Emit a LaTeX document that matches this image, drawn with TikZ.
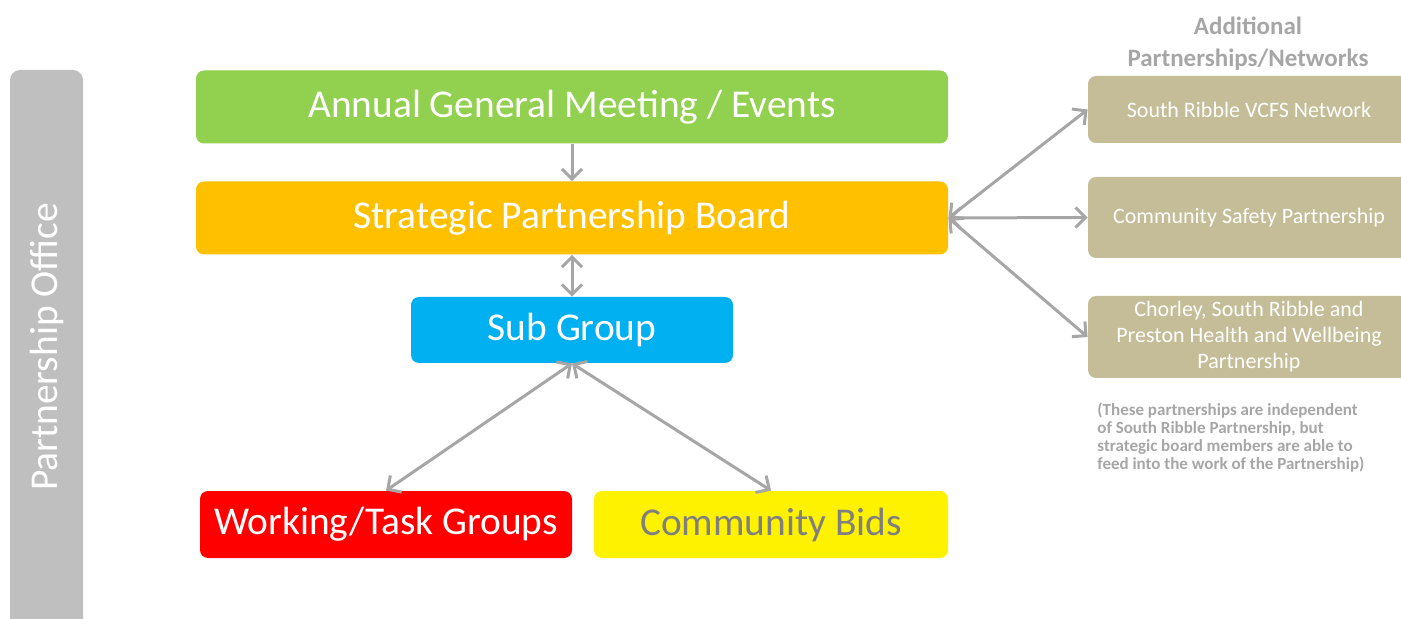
\documentclass[tikz,border=0pt]{standalone}
\usepackage{fontspec}
\setmainfont{Carlito}
\usetikzlibrary{arrows.meta}
\definecolor{officegray}{HTML}{BFBFBF}
\definecolor{linegray}{HTML}{A6A6A6}
\definecolor{agmgreen}{HTML}{92D050}
\definecolor{boardorange}{HTML}{FFC000}
\definecolor{subblue}{HTML}{00B0F0}
\definecolor{partnertan}{HTML}{C4BD97}
\definecolor{textgray}{HTML}{7F7F7F}
\tikzstyle{mainbox} = [rectangle, rounded corners=4pt, inner sep=0pt, text centered, text=white, font=\fontsize{19.7}{23}\selectfont]
\tikzstyle{partnerbox} = [rectangle, rounded corners=4pt, inner sep=0pt, minimum width=161pt, text=white, align=center, fill=partnertan, font=\fontsize{11}{13}\selectfont]
\tikzstyle{arrow} = [line width=1.5pt, draw=linegray, ->, >={Straight Barb[length=5pt,width=10pt]}]
\tikzstyle{twoway} = [arrow, <->]

\begin{document}
\begin{tikzpicture}[x=0.5pt, y=-0.5pt]
\useasboundingbox (0,0) rectangle (1401,619);

\fill[officegray] (10,619) [rounded corners=5pt] -- (10,70) -- (83,70) [sharp corners] -- (83,619) -- cycle;
\node (office) [rotate=90, text=white, font=\fontsize{19.7}{23}\selectfont] at (47,347) {Partnership Office};

\node (agm) [mainbox, fill=agmgreen, minimum width=376pt, minimum height=36.5pt] at (572,107) {Annual General Meeting / Events};
\node (board) [mainbox, fill=boardorange, minimum width=376pt, minimum height=36.5pt] at (572,218) {Strategic Partnership Board};
\node (sub) [mainbox, fill=subblue, minimum width=161pt, minimum height=33pt] at (572,330) {Sub Group};
\node (work) [mainbox, fill=red, minimum width=186pt, minimum height=33.5pt] at (386,524.5) {Working/Task Groups};
\node (bids) [mainbox, fill=yellow, text=textgray, minimum width=177pt, minimum height=33.5pt] at (771,524.5) {Community Bids};

\node (header) [text=linegray, align=center, font=\bfseries\fontsize{12.5}{16}\selectfont] at (1248,44) {Additional\\Partnerships/Networks};
\node (vcfs) [partnerbox, minimum height=33.5pt] at (1249,109.5) {South Ribble VCFS Network};
\node (csp) [partnerbox, minimum height=40.5pt] at (1249,217.5) {Community Safety Partnership};
\node (health) [partnerbox, minimum height=41pt] at (1249,337) {Chorley, South Ribble and\\Preston Health and Wellbeing\\Partnership};
\node (note) [anchor=north west, text=linegray, align=left, inner sep=0pt, font=\bfseries\fontsize{8.5}{9}\selectfont] at (1097,402) {(These partnerships are independent\\of South Ribble Partnership, but\\strategic board members are able to\\feed into the work of the Partnership)};

\draw [arrow] (agm) -- (board);
\draw [twoway] (board) -- (sub);
\draw [twoway] (sub.south) -- (work.north);
\draw [twoway] (sub.south) -- (bids.north);
\draw [twoway] (board.east) -- (vcfs.west);
\draw [twoway] (board.east) -- (csp.west);
\draw [twoway] (board.east) -- (health.west);

\end{tikzpicture}
\end{document}
